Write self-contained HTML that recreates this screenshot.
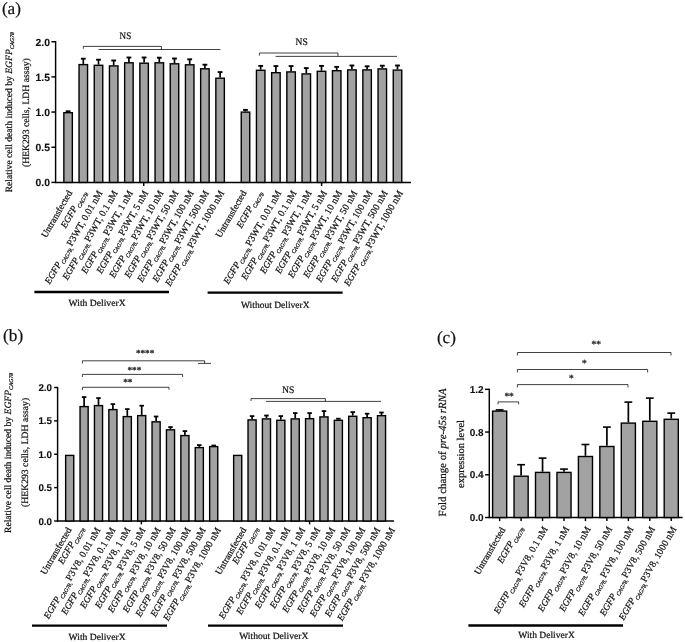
<!DOCTYPE html>
<html><head><meta charset="utf-8"><title>Figure</title>
<style>
html,body{margin:0;padding:0;background:#fff;}
svg text{stroke:#111;stroke-width:0.22px;}svg text.st{stroke:#333;stroke-width:0.4px;}svg text.tk{stroke-width:0.1px;}svg{display:block;text-rendering:geometricPrecision;will-change:transform;filter:grayscale(1);font-family:"Liberation Serif",serif;fill:#111;}
</style></head><body>
<svg width="685" height="642" viewBox="0 0 685 642">
<rect width="685" height="642" fill="#fff"/>
<text x="1.9" y="14.0" font-size="17.2">(a)</text>
<path d="M55.6,41.10 V183.00" stroke="#000" stroke-width="1.45"/>
<path d="M55.0,182.4 H411" stroke="#000" stroke-width="1.45"/>
<path d="M143.7,182.4 V186.0" stroke="#000" stroke-width="1.45"/>
<path d="M321.6,182.4 V186.0" stroke="#000" stroke-width="1.45"/>
<line x1="51.40" x2="55.60" y1="182.40" y2="182.40" stroke="#000" stroke-width="1.45"/>
<text x="50.00" y="186.20" text-anchor="end" class="tk" font-family="'Liberation Sans',sans-serif" font-weight="bold" font-size="10.4">0.0</text>
<line x1="51.40" x2="55.60" y1="147.23" y2="147.23" stroke="#000" stroke-width="1.45"/>
<text x="50.00" y="151.03" text-anchor="end" class="tk" font-family="'Liberation Sans',sans-serif" font-weight="bold" font-size="10.4">0.5</text>
<line x1="51.40" x2="55.60" y1="112.05" y2="112.05" stroke="#000" stroke-width="1.45"/>
<text x="50.00" y="115.85" text-anchor="end" class="tk" font-family="'Liberation Sans',sans-serif" font-weight="bold" font-size="10.4">1.0</text>
<line x1="51.40" x2="55.60" y1="76.88" y2="76.88" stroke="#000" stroke-width="1.45"/>
<text x="50.00" y="80.68" text-anchor="end" class="tk" font-family="'Liberation Sans',sans-serif" font-weight="bold" font-size="10.4">1.5</text>
<line x1="51.40" x2="55.60" y1="41.70" y2="41.70" stroke="#000" stroke-width="1.45"/>
<text x="50.00" y="45.50" text-anchor="end" class="tk" font-family="'Liberation Sans',sans-serif" font-weight="bold" font-size="10.4">2.0</text>
<path d="M68.10,112.00 V111.20" stroke="#000" stroke-width="1.7" fill="none"/><path d="M65.70,111.30 H70.50" stroke="#000" stroke-width="1.9" fill="none"/><rect x="63.85" y="112.70" width="8.50" height="69.70" fill="#a2a2a2" stroke="#000" stroke-width="1.4"/>
<text transform="translate(72.50,192.80) rotate(-60)" text-anchor="end" font-size="9.4">Untransfected</text>
<path d="M83.30,63.90 V58.60" stroke="#000" stroke-width="1.7" fill="none"/><path d="M80.90,58.70 H85.70" stroke="#000" stroke-width="1.9" fill="none"/><rect x="79.05" y="64.60" width="8.50" height="117.80" fill="#a2a2a2" stroke="#000" stroke-width="1.4"/>
<text transform="translate(86.50,192.80) rotate(-60)" text-anchor="end" font-size="9.4"><tspan font-style="italic">EGFP</tspan><tspan font-style="italic" font-size="5.64" dx="0.7" dy="2.4">CAG78</tspan></text>
<path d="M98.50,64.60 V59.60" stroke="#000" stroke-width="1.7" fill="none"/><path d="M96.10,59.70 H100.90" stroke="#000" stroke-width="1.9" fill="none"/><rect x="94.25" y="65.30" width="8.50" height="117.10" fill="#a2a2a2" stroke="#000" stroke-width="1.4"/>
<text transform="translate(102.90,192.80) rotate(-60)" text-anchor="end" font-size="9.4"><tspan font-style="italic">EGFP</tspan><tspan font-style="italic" font-size="5.64" dx="0.7" dy="2.4">CAG78,</tspan><tspan dy="-2.4" dx="1.0" font-size="9.70">P3WT, 0.01 nM</tspan></text>
<path d="M113.70,65.20 V60.40" stroke="#000" stroke-width="1.7" fill="none"/><path d="M111.30,60.50 H116.10" stroke="#000" stroke-width="1.9" fill="none"/><rect x="109.45" y="65.90" width="8.50" height="116.50" fill="#a2a2a2" stroke="#000" stroke-width="1.4"/>
<text transform="translate(118.10,192.80) rotate(-60)" text-anchor="end" font-size="9.4"><tspan font-style="italic">EGFP</tspan><tspan font-style="italic" font-size="5.64" dx="0.7" dy="2.4">CAG78,</tspan><tspan dy="-2.4" dx="1.0" font-size="9.70">P3WT, 0.1 nM</tspan></text>
<path d="M128.90,62.10 V57.40" stroke="#000" stroke-width="1.7" fill="none"/><path d="M126.50,57.50 H131.30" stroke="#000" stroke-width="1.9" fill="none"/><rect x="124.65" y="62.80" width="8.50" height="119.60" fill="#a2a2a2" stroke="#000" stroke-width="1.4"/>
<text transform="translate(133.30,192.80) rotate(-60)" text-anchor="end" font-size="9.4"><tspan font-style="italic">EGFP</tspan><tspan font-style="italic" font-size="5.64" dx="0.7" dy="2.4">CAG78,</tspan><tspan dy="-2.4" dx="1.0" font-size="9.70">P3WT, 1 nM</tspan></text>
<path d="M144.10,62.50 V57.40" stroke="#000" stroke-width="1.7" fill="none"/><path d="M141.70,57.50 H146.50" stroke="#000" stroke-width="1.9" fill="none"/><rect x="139.85" y="63.20" width="8.50" height="119.20" fill="#a2a2a2" stroke="#000" stroke-width="1.4"/>
<text transform="translate(148.50,192.80) rotate(-60)" text-anchor="end" font-size="9.4"><tspan font-style="italic">EGFP</tspan><tspan font-style="italic" font-size="5.64" dx="0.7" dy="2.4">CAG78,</tspan><tspan dy="-2.4" dx="1.0" font-size="9.70">P3WT, 5 nM</tspan></text>
<path d="M159.30,62.10 V57.60" stroke="#000" stroke-width="1.7" fill="none"/><path d="M156.90,57.70 H161.70" stroke="#000" stroke-width="1.9" fill="none"/><rect x="155.05" y="62.80" width="8.50" height="119.60" fill="#a2a2a2" stroke="#000" stroke-width="1.4"/>
<text transform="translate(163.70,192.80) rotate(-60)" text-anchor="end" font-size="9.4"><tspan font-style="italic">EGFP</tspan><tspan font-style="italic" font-size="5.64" dx="0.7" dy="2.4">CAG78,</tspan><tspan dy="-2.4" dx="1.0" font-size="9.70">P3WT, 10 nM</tspan></text>
<path d="M174.50,63.10 V58.40" stroke="#000" stroke-width="1.7" fill="none"/><path d="M172.10,58.50 H176.90" stroke="#000" stroke-width="1.9" fill="none"/><rect x="170.25" y="63.80" width="8.50" height="118.60" fill="#a2a2a2" stroke="#000" stroke-width="1.4"/>
<text transform="translate(178.90,192.80) rotate(-60)" text-anchor="end" font-size="9.4"><tspan font-style="italic">EGFP</tspan><tspan font-style="italic" font-size="5.64" dx="0.7" dy="2.4">CAG78,</tspan><tspan dy="-2.4" dx="1.0" font-size="9.70">P3WT, 50 nM</tspan></text>
<path d="M189.70,64.10 V59.20" stroke="#000" stroke-width="1.7" fill="none"/><path d="M187.30,59.30 H192.10" stroke="#000" stroke-width="1.9" fill="none"/><rect x="185.45" y="64.80" width="8.50" height="117.60" fill="#a2a2a2" stroke="#000" stroke-width="1.4"/>
<text transform="translate(194.10,192.80) rotate(-60)" text-anchor="end" font-size="9.4"><tspan font-style="italic">EGFP</tspan><tspan font-style="italic" font-size="5.64" dx="0.7" dy="2.4">CAG78,</tspan><tspan dy="-2.4" dx="1.0" font-size="9.70">P3WT, 100 nM</tspan></text>
<path d="M204.90,68.10 V64.60" stroke="#000" stroke-width="1.7" fill="none"/><path d="M202.50,64.70 H207.30" stroke="#000" stroke-width="1.9" fill="none"/><rect x="200.65" y="68.80" width="8.50" height="113.60" fill="#a2a2a2" stroke="#000" stroke-width="1.4"/>
<text transform="translate(209.30,192.80) rotate(-60)" text-anchor="end" font-size="9.4"><tspan font-style="italic">EGFP</tspan><tspan font-style="italic" font-size="5.64" dx="0.7" dy="2.4">CAG78,</tspan><tspan dy="-2.4" dx="1.0" font-size="9.70">P3WT, 500 nM</tspan></text>
<path d="M220.10,77.50 V72.00" stroke="#000" stroke-width="1.7" fill="none"/><path d="M217.70,72.10 H222.50" stroke="#000" stroke-width="1.9" fill="none"/><rect x="215.85" y="78.20" width="8.50" height="104.20" fill="#a2a2a2" stroke="#000" stroke-width="1.4"/>
<text transform="translate(224.50,192.80) rotate(-60)" text-anchor="end" font-size="9.4"><tspan font-style="italic">EGFP</tspan><tspan font-style="italic" font-size="5.64" dx="0.7" dy="2.4">CAG78,</tspan><tspan dy="-2.4" dx="1.0" font-size="9.70">P3WT, 1000 nM</tspan></text>
<path d="M245.50,111.40 V109.80" stroke="#000" stroke-width="1.7" fill="none"/><path d="M243.10,109.90 H247.90" stroke="#000" stroke-width="1.9" fill="none"/><rect x="241.25" y="112.10" width="8.50" height="70.30" fill="#a2a2a2" stroke="#000" stroke-width="1.4"/>
<text transform="translate(246.80,192.80) rotate(-60)" text-anchor="end" font-size="9.4">Untransfected</text>
<path d="M260.70,69.60 V65.80" stroke="#000" stroke-width="1.7" fill="none"/><path d="M258.30,65.90 H263.10" stroke="#000" stroke-width="1.9" fill="none"/><rect x="256.45" y="70.30" width="8.50" height="112.10" fill="#a2a2a2" stroke="#000" stroke-width="1.4"/>
<text transform="translate(262.20,192.80) rotate(-60)" text-anchor="end" font-size="9.4"><tspan font-style="italic">EGFP</tspan><tspan font-style="italic" font-size="5.64" dx="0.7" dy="2.4">CAG78</tspan></text>
<path d="M275.90,72.00 V66.00" stroke="#000" stroke-width="1.7" fill="none"/><path d="M273.50,66.10 H278.30" stroke="#000" stroke-width="1.9" fill="none"/><rect x="271.65" y="72.70" width="8.50" height="109.70" fill="#a2a2a2" stroke="#000" stroke-width="1.4"/>
<text transform="translate(281.60,192.80) rotate(-60)" text-anchor="end" font-size="9.4"><tspan font-style="italic">EGFP</tspan><tspan font-style="italic" font-size="5.64" dx="0.7" dy="2.4">CAG78,</tspan><tspan dy="-2.4" dx="1.0" font-size="9.70">P3WT, 0.01 nM</tspan></text>
<path d="M291.10,71.20 V66.00" stroke="#000" stroke-width="1.7" fill="none"/><path d="M288.70,66.10 H293.50" stroke="#000" stroke-width="1.9" fill="none"/><rect x="286.85" y="71.90" width="8.50" height="110.50" fill="#a2a2a2" stroke="#000" stroke-width="1.4"/>
<text transform="translate(296.80,192.80) rotate(-60)" text-anchor="end" font-size="9.4"><tspan font-style="italic">EGFP</tspan><tspan font-style="italic" font-size="5.64" dx="0.7" dy="2.4">CAG78,</tspan><tspan dy="-2.4" dx="1.0" font-size="9.70">P3WT, 0.1 nM</tspan></text>
<path d="M306.30,73.20 V68.00" stroke="#000" stroke-width="1.7" fill="none"/><path d="M303.90,68.10 H308.70" stroke="#000" stroke-width="1.9" fill="none"/><rect x="302.05" y="73.90" width="8.50" height="108.50" fill="#a2a2a2" stroke="#000" stroke-width="1.4"/>
<text transform="translate(312.00,192.80) rotate(-60)" text-anchor="end" font-size="9.4"><tspan font-style="italic">EGFP</tspan><tspan font-style="italic" font-size="5.64" dx="0.7" dy="2.4">CAG78,</tspan><tspan dy="-2.4" dx="1.0" font-size="9.70">P3WT, 1 nM</tspan></text>
<path d="M321.50,70.60 V65.80" stroke="#000" stroke-width="1.7" fill="none"/><path d="M319.10,65.90 H323.90" stroke="#000" stroke-width="1.9" fill="none"/><rect x="317.25" y="71.30" width="8.50" height="111.10" fill="#a2a2a2" stroke="#000" stroke-width="1.4"/>
<text transform="translate(327.20,192.80) rotate(-60)" text-anchor="end" font-size="9.4"><tspan font-style="italic">EGFP</tspan><tspan font-style="italic" font-size="5.64" dx="0.7" dy="2.4">CAG78,</tspan><tspan dy="-2.4" dx="1.0" font-size="9.70">P3WT, 5 nM</tspan></text>
<path d="M336.70,70.00 V66.80" stroke="#000" stroke-width="1.7" fill="none"/><path d="M334.30,66.90 H339.10" stroke="#000" stroke-width="1.9" fill="none"/><rect x="332.45" y="70.70" width="8.50" height="111.70" fill="#a2a2a2" stroke="#000" stroke-width="1.4"/>
<text transform="translate(342.40,192.80) rotate(-60)" text-anchor="end" font-size="9.4"><tspan font-style="italic">EGFP</tspan><tspan font-style="italic" font-size="5.64" dx="0.7" dy="2.4">CAG78,</tspan><tspan dy="-2.4" dx="1.0" font-size="9.70">P3WT, 10 nM</tspan></text>
<path d="M351.90,69.20 V65.40" stroke="#000" stroke-width="1.7" fill="none"/><path d="M349.50,65.50 H354.30" stroke="#000" stroke-width="1.9" fill="none"/><rect x="347.65" y="69.90" width="8.50" height="112.50" fill="#a2a2a2" stroke="#000" stroke-width="1.4"/>
<text transform="translate(357.60,192.80) rotate(-60)" text-anchor="end" font-size="9.4"><tspan font-style="italic">EGFP</tspan><tspan font-style="italic" font-size="5.64" dx="0.7" dy="2.4">CAG78,</tspan><tspan dy="-2.4" dx="1.0" font-size="9.70">P3WT, 50 nM</tspan></text>
<path d="M367.10,69.20 V66.20" stroke="#000" stroke-width="1.7" fill="none"/><path d="M364.70,66.30 H369.50" stroke="#000" stroke-width="1.9" fill="none"/><rect x="362.85" y="69.90" width="8.50" height="112.50" fill="#a2a2a2" stroke="#000" stroke-width="1.4"/>
<text transform="translate(372.80,192.80) rotate(-60)" text-anchor="end" font-size="9.4"><tspan font-style="italic">EGFP</tspan><tspan font-style="italic" font-size="5.64" dx="0.7" dy="2.4">CAG78,</tspan><tspan dy="-2.4" dx="1.0" font-size="9.70">P3WT, 100 nM</tspan></text>
<path d="M382.30,68.20 V65.60" stroke="#000" stroke-width="1.7" fill="none"/><path d="M379.90,65.70 H384.70" stroke="#000" stroke-width="1.9" fill="none"/><rect x="378.05" y="68.90" width="8.50" height="113.50" fill="#a2a2a2" stroke="#000" stroke-width="1.4"/>
<text transform="translate(388.00,192.80) rotate(-60)" text-anchor="end" font-size="9.4"><tspan font-style="italic">EGFP</tspan><tspan font-style="italic" font-size="5.64" dx="0.7" dy="2.4">CAG78,</tspan><tspan dy="-2.4" dx="1.0" font-size="9.70">P3WT, 500 nM</tspan></text>
<path d="M397.50,69.40 V65.40" stroke="#000" stroke-width="1.7" fill="none"/><path d="M395.10,65.50 H399.90" stroke="#000" stroke-width="1.9" fill="none"/><rect x="393.25" y="70.10" width="8.50" height="112.30" fill="#a2a2a2" stroke="#000" stroke-width="1.4"/>
<text transform="translate(403.20,192.80) rotate(-60)" text-anchor="end" font-size="9.4"><tspan font-style="italic">EGFP</tspan><tspan font-style="italic" font-size="5.64" dx="0.7" dy="2.4">CAG78,</tspan><tspan dy="-2.4" dx="1.0" font-size="9.70">P3WT, 1000 nM</tspan></text>
<path d="M83.3,48.8 V46.4 H161.4 V49.5 M98.6,49.5 H220.4" stroke="#111" stroke-width="0.8" fill="none"/>
<path d="M259.4,55.6 V53 H338 V56.4 M275.6,56.4 H397" stroke="#111" stroke-width="0.8" fill="none"/>
<text x="119.6" y="39" font-size="10" textLength="11.6" lengthAdjust="spacingAndGlyphs">NS</text>
<text x="295.6" y="45" font-size="10" textLength="12.2" lengthAdjust="spacingAndGlyphs">NS</text>
<path d="M34.4,292 H169 M207.6,292.6 H342.6" stroke="#000" stroke-width="2.4"/>
<text x="68.6" y="306" font-size="9.5" textLength="57" lengthAdjust="spacingAndGlyphs">With DeliverX</text>
<text x="241" y="307.5" font-size="9.5" textLength="68.6" lengthAdjust="spacingAndGlyphs">Without DeliverX</text>
<text transform="translate(11.7,192.3) rotate(-90)" font-size="9.6">Relative cell death induced by <tspan font-style="italic">EGFP</tspan><tspan font-style="italic" font-size="5.7" dy="2.2">CAG78</tspan></text>
<text transform="translate(28.5,167.0) rotate(-90)" font-size="9.6" textLength="108.8" lengthAdjust="spacingAndGlyphs">(HEK293 cells, LDH assay)</text>
<text x="3.1" y="340.6" font-size="17.2">(b)</text>
<path d="M57.6,386.90 V521.60" stroke="#000" stroke-width="1.45"/>
<path d="M57.0,521.0 H394" stroke="#000" stroke-width="1.45"/>
<path d="M141.4,521.0 V524.4" stroke="#000" stroke-width="1.45"/>
<path d="M309.6,521.0 V524.4" stroke="#000" stroke-width="1.45"/>
<line x1="54.20" x2="57.60" y1="521.00" y2="521.00" stroke="#000" stroke-width="1.45"/>
<text x="52.00" y="524.50" text-anchor="end" class="tk" font-family="'Liberation Sans',sans-serif" font-weight="bold" font-size="9.8">0.0</text>
<line x1="54.20" x2="57.60" y1="487.62" y2="487.62" stroke="#000" stroke-width="1.45"/>
<text x="52.00" y="491.12" text-anchor="end" class="tk" font-family="'Liberation Sans',sans-serif" font-weight="bold" font-size="9.8">0.5</text>
<line x1="54.20" x2="57.60" y1="454.25" y2="454.25" stroke="#000" stroke-width="1.45"/>
<text x="52.00" y="457.75" text-anchor="end" class="tk" font-family="'Liberation Sans',sans-serif" font-weight="bold" font-size="9.8">1.0</text>
<line x1="54.20" x2="57.60" y1="420.88" y2="420.88" stroke="#000" stroke-width="1.45"/>
<text x="52.00" y="424.38" text-anchor="end" class="tk" font-family="'Liberation Sans',sans-serif" font-weight="bold" font-size="9.8">1.5</text>
<line x1="54.20" x2="57.60" y1="387.50" y2="387.50" stroke="#000" stroke-width="1.45"/>
<text x="52.00" y="391.00" text-anchor="end" class="tk" font-family="'Liberation Sans',sans-serif" font-weight="bold" font-size="9.8">2.0</text>
<rect x="65.65" y="455.40" width="8.10" height="65.60" fill="#a2a2a2" stroke="#000" stroke-width="1.4"/>
<text transform="translate(71.90,529.70) rotate(-60)" text-anchor="end" font-size="9.4">Untransfected</text>
<path d="M84.10,405.90 V397.00" stroke="#000" stroke-width="1.7" fill="none"/><path d="M81.85,397.10 H86.35" stroke="#000" stroke-width="1.8" fill="none"/><rect x="80.05" y="406.60" width="8.10" height="114.40" fill="#a2a2a2" stroke="#000" stroke-width="1.4"/>
<text transform="translate(83.80,528.70) rotate(-60)" text-anchor="end" font-size="9.4"><tspan font-style="italic">EGFP</tspan><tspan font-style="italic" font-size="5.64" dx="0.7" dy="2.4">CAG78</tspan></text>
<path d="M98.50,404.90 V398.00" stroke="#000" stroke-width="1.7" fill="none"/><path d="M96.25,398.10 H100.75" stroke="#000" stroke-width="1.8" fill="none"/><rect x="94.45" y="405.60" width="8.10" height="115.40" fill="#a2a2a2" stroke="#000" stroke-width="1.4"/>
<text transform="translate(100.70,529.70) rotate(-60)" text-anchor="end" font-size="9.4"><tspan font-style="italic">EGFP</tspan><tspan font-style="italic" font-size="5.64" dx="0.7" dy="2.4">CAG78,</tspan><tspan dy="-2.4" dx="1.0" font-size="9.70">P3V8, 0.01 nM</tspan></text>
<path d="M112.90,408.90 V404.00" stroke="#000" stroke-width="1.7" fill="none"/><path d="M110.65,404.10 H115.15" stroke="#000" stroke-width="1.8" fill="none"/><rect x="108.85" y="409.60" width="8.10" height="111.40" fill="#a2a2a2" stroke="#000" stroke-width="1.4"/>
<text transform="translate(115.76,529.70) rotate(-60)" text-anchor="end" font-size="9.4"><tspan font-style="italic">EGFP</tspan><tspan font-style="italic" font-size="5.64" dx="0.7" dy="2.4">CAG78,</tspan><tspan dy="-2.4" dx="1.0" font-size="9.70">P3V8, 0.1 nM</tspan></text>
<path d="M127.30,415.90 V409.00" stroke="#000" stroke-width="1.7" fill="none"/><path d="M125.05,409.10 H129.55" stroke="#000" stroke-width="1.8" fill="none"/><rect x="123.25" y="416.60" width="8.10" height="104.40" fill="#a2a2a2" stroke="#000" stroke-width="1.4"/>
<text transform="translate(130.82,529.70) rotate(-60)" text-anchor="end" font-size="9.4"><tspan font-style="italic">EGFP</tspan><tspan font-style="italic" font-size="5.64" dx="0.7" dy="2.4">CAG78,</tspan><tspan dy="-2.4" dx="1.0" font-size="9.70">P3V8, 1 nM</tspan></text>
<path d="M141.70,414.90 V405.60" stroke="#000" stroke-width="1.7" fill="none"/><path d="M139.45,405.70 H143.95" stroke="#000" stroke-width="1.8" fill="none"/><rect x="137.65" y="415.60" width="8.10" height="105.40" fill="#a2a2a2" stroke="#000" stroke-width="1.4"/>
<text transform="translate(145.88,529.70) rotate(-60)" text-anchor="end" font-size="9.4"><tspan font-style="italic">EGFP</tspan><tspan font-style="italic" font-size="5.64" dx="0.7" dy="2.4">CAG78,</tspan><tspan dy="-2.4" dx="1.0" font-size="9.70">P3V8, 5 nM</tspan></text>
<path d="M156.10,421.10 V416.40" stroke="#000" stroke-width="1.7" fill="none"/><path d="M153.85,416.50 H158.35" stroke="#000" stroke-width="1.8" fill="none"/><rect x="152.05" y="421.80" width="8.10" height="99.20" fill="#a2a2a2" stroke="#000" stroke-width="1.4"/>
<text transform="translate(160.94,529.70) rotate(-60)" text-anchor="end" font-size="9.4"><tspan font-style="italic">EGFP</tspan><tspan font-style="italic" font-size="5.64" dx="0.7" dy="2.4">CAG78,</tspan><tspan dy="-2.4" dx="1.0" font-size="9.70">P3V8, 10 nM</tspan></text>
<path d="M170.50,429.10 V427.00" stroke="#000" stroke-width="1.7" fill="none"/><path d="M168.25,427.10 H172.75" stroke="#000" stroke-width="1.8" fill="none"/><rect x="166.45" y="429.80" width="8.10" height="91.20" fill="#a2a2a2" stroke="#000" stroke-width="1.4"/>
<text transform="translate(176.00,529.70) rotate(-60)" text-anchor="end" font-size="9.4"><tspan font-style="italic">EGFP</tspan><tspan font-style="italic" font-size="5.64" dx="0.7" dy="2.4">CAG78,</tspan><tspan dy="-2.4" dx="1.0" font-size="9.70">P3V8, 50 nM</tspan></text>
<path d="M184.90,434.90 V431.00" stroke="#000" stroke-width="1.7" fill="none"/><path d="M182.65,431.10 H187.15" stroke="#000" stroke-width="1.8" fill="none"/><rect x="180.85" y="435.60" width="8.10" height="85.40" fill="#a2a2a2" stroke="#000" stroke-width="1.4"/>
<text transform="translate(191.06,529.70) rotate(-60)" text-anchor="end" font-size="9.4"><tspan font-style="italic">EGFP</tspan><tspan font-style="italic" font-size="5.64" dx="0.7" dy="2.4">CAG78,</tspan><tspan dy="-2.4" dx="1.0" font-size="9.70">P3V8, 100 nM</tspan></text>
<path d="M199.30,446.90 V445.00" stroke="#000" stroke-width="1.7" fill="none"/><path d="M197.05,445.10 H201.55" stroke="#000" stroke-width="1.8" fill="none"/><rect x="195.25" y="447.60" width="8.10" height="73.40" fill="#a2a2a2" stroke="#000" stroke-width="1.4"/>
<text transform="translate(206.12,529.70) rotate(-60)" text-anchor="end" font-size="9.4"><tspan font-style="italic">EGFP</tspan><tspan font-style="italic" font-size="5.64" dx="0.7" dy="2.4">CAG78,</tspan><tspan dy="-2.4" dx="1.0" font-size="9.70">P3V8, 500 nM</tspan></text>
<path d="M213.70,445.90 V445.40" stroke="#000" stroke-width="1.7" fill="none"/><path d="M211.45,445.50 H215.95" stroke="#000" stroke-width="1.8" fill="none"/><rect x="209.65" y="446.60" width="8.10" height="74.40" fill="#a2a2a2" stroke="#000" stroke-width="1.4"/>
<text transform="translate(221.18,529.70) rotate(-60)" text-anchor="end" font-size="9.4"><tspan font-style="italic">EGFP</tspan><tspan font-style="italic" font-size="5.64" dx="0.7" dy="2.4">CAG78,</tspan><tspan dy="-2.4" dx="1.0" font-size="9.70">P3V8, 1000 nM</tspan></text>
<rect x="233.65" y="455.40" width="8.10" height="65.60" fill="#a2a2a2" stroke="#000" stroke-width="1.4"/>
<text transform="translate(246.65,529.70) rotate(-60)" text-anchor="end" font-size="9.4">Untransfected</text>
<path d="M252.08,419.20 V416.00" stroke="#000" stroke-width="1.7" fill="none"/><path d="M249.83,416.10 H254.33" stroke="#000" stroke-width="1.8" fill="none"/><rect x="248.03" y="419.90" width="8.10" height="101.10" fill="#a2a2a2" stroke="#000" stroke-width="1.4"/>
<text transform="translate(258.00,528.70) rotate(-60)" text-anchor="end" font-size="9.4"><tspan font-style="italic">EGFP</tspan><tspan font-style="italic" font-size="5.64" dx="0.7" dy="2.4">CAG78</tspan></text>
<path d="M266.46,418.20 V415.40" stroke="#000" stroke-width="1.7" fill="none"/><path d="M264.21,415.50 H268.71" stroke="#000" stroke-width="1.8" fill="none"/><rect x="262.41" y="418.90" width="8.10" height="102.10" fill="#a2a2a2" stroke="#000" stroke-width="1.4"/>
<text transform="translate(275.66,529.70) rotate(-60)" text-anchor="end" font-size="9.4"><tspan font-style="italic">EGFP</tspan><tspan font-style="italic" font-size="5.64" dx="0.7" dy="2.4">CAG78,</tspan><tspan dy="-2.4" dx="1.0" font-size="9.70">P3V8, 0.01 nM</tspan></text>
<path d="M280.84,419.60 V416.00" stroke="#000" stroke-width="1.7" fill="none"/><path d="M278.59,416.10 H283.09" stroke="#000" stroke-width="1.8" fill="none"/><rect x="276.79" y="420.30" width="8.10" height="100.70" fill="#a2a2a2" stroke="#000" stroke-width="1.4"/>
<text transform="translate(290.63,529.70) rotate(-60)" text-anchor="end" font-size="9.4"><tspan font-style="italic">EGFP</tspan><tspan font-style="italic" font-size="5.64" dx="0.7" dy="2.4">CAG78,</tspan><tspan dy="-2.4" dx="1.0" font-size="9.70">P3V8, 0.1 nM</tspan></text>
<path d="M295.22,418.20 V413.00" stroke="#000" stroke-width="1.7" fill="none"/><path d="M292.97,413.10 H297.47" stroke="#000" stroke-width="1.8" fill="none"/><rect x="291.17" y="418.90" width="8.10" height="102.10" fill="#a2a2a2" stroke="#000" stroke-width="1.4"/>
<text transform="translate(305.60,529.70) rotate(-60)" text-anchor="end" font-size="9.4"><tspan font-style="italic">EGFP</tspan><tspan font-style="italic" font-size="5.64" dx="0.7" dy="2.4">CAG78,</tspan><tspan dy="-2.4" dx="1.0" font-size="9.70">P3V8, 1 nM</tspan></text>
<path d="M309.60,418.00 V413.00" stroke="#000" stroke-width="1.7" fill="none"/><path d="M307.35,413.10 H311.85" stroke="#000" stroke-width="1.8" fill="none"/><rect x="305.55" y="418.70" width="8.10" height="102.30" fill="#a2a2a2" stroke="#000" stroke-width="1.4"/>
<text transform="translate(320.57,529.70) rotate(-60)" text-anchor="end" font-size="9.4"><tspan font-style="italic">EGFP</tspan><tspan font-style="italic" font-size="5.64" dx="0.7" dy="2.4">CAG78,</tspan><tspan dy="-2.4" dx="1.0" font-size="9.70">P3V8, 5 nM</tspan></text>
<path d="M323.98,416.20 V411.00" stroke="#000" stroke-width="1.7" fill="none"/><path d="M321.73,411.10 H326.23" stroke="#000" stroke-width="1.8" fill="none"/><rect x="319.93" y="416.90" width="8.10" height="104.10" fill="#a2a2a2" stroke="#000" stroke-width="1.4"/>
<text transform="translate(335.54,529.70) rotate(-60)" text-anchor="end" font-size="9.4"><tspan font-style="italic">EGFP</tspan><tspan font-style="italic" font-size="5.64" dx="0.7" dy="2.4">CAG78,</tspan><tspan dy="-2.4" dx="1.0" font-size="9.70">P3V8, 10 nM</tspan></text>
<path d="M338.36,419.60 V418.60" stroke="#000" stroke-width="1.7" fill="none"/><path d="M336.11,418.70 H340.61" stroke="#000" stroke-width="1.8" fill="none"/><rect x="334.31" y="420.30" width="8.10" height="100.70" fill="#a2a2a2" stroke="#000" stroke-width="1.4"/>
<text transform="translate(350.51,529.70) rotate(-60)" text-anchor="end" font-size="9.4"><tspan font-style="italic">EGFP</tspan><tspan font-style="italic" font-size="5.64" dx="0.7" dy="2.4">CAG78,</tspan><tspan dy="-2.4" dx="1.0" font-size="9.70">P3V8, 50 nM</tspan></text>
<path d="M352.74,415.60 V412.00" stroke="#000" stroke-width="1.7" fill="none"/><path d="M350.49,412.10 H354.99" stroke="#000" stroke-width="1.8" fill="none"/><rect x="348.69" y="416.30" width="8.10" height="104.70" fill="#a2a2a2" stroke="#000" stroke-width="1.4"/>
<text transform="translate(365.48,529.70) rotate(-60)" text-anchor="end" font-size="9.4"><tspan font-style="italic">EGFP</tspan><tspan font-style="italic" font-size="5.64" dx="0.7" dy="2.4">CAG78,</tspan><tspan dy="-2.4" dx="1.0" font-size="9.70">P3V8, 100 nM</tspan></text>
<path d="M367.12,417.00 V413.60" stroke="#000" stroke-width="1.7" fill="none"/><path d="M364.87,413.70 H369.37" stroke="#000" stroke-width="1.8" fill="none"/><rect x="363.07" y="417.70" width="8.10" height="103.30" fill="#a2a2a2" stroke="#000" stroke-width="1.4"/>
<text transform="translate(380.45,529.70) rotate(-60)" text-anchor="end" font-size="9.4"><tspan font-style="italic">EGFP</tspan><tspan font-style="italic" font-size="5.64" dx="0.7" dy="2.4">CAG78,</tspan><tspan dy="-2.4" dx="1.0" font-size="9.70">P3V8, 500 nM</tspan></text>
<path d="M381.50,415.00 V412.40" stroke="#000" stroke-width="1.7" fill="none"/><path d="M379.25,412.50 H383.75" stroke="#000" stroke-width="1.8" fill="none"/><rect x="377.45" y="415.70" width="8.10" height="105.30" fill="#a2a2a2" stroke="#000" stroke-width="1.4"/>
<text transform="translate(395.42,529.70) rotate(-60)" text-anchor="end" font-size="9.4"><tspan font-style="italic">EGFP</tspan><tspan font-style="italic" font-size="5.64" dx="0.7" dy="2.4">CAG78,</tspan><tspan dy="-2.4" dx="1.0" font-size="9.70">P3V8, 1000 nM</tspan></text>
<path d="M82.4,390 V387.3 H169 V389.8 M82.4,377 V374.4 H182.6 V377 M82.4,363.5 V360.8 H204.6 V363.4 M198,363.4 H211" stroke="#111" stroke-width="0.8" fill="none"/>
<path d="M251,401 V398.6 H325.4 V401.4 M266,401.4 H381" stroke="#111" stroke-width="0.8" fill="none"/>
<text x="282" y="393" font-size="10" textLength="12.4" lengthAdjust="spacingAndGlyphs">NS</text>
<text x="123.2" y="385.2" font-size="9.2" class="st" fill="#333">**</text>
<text x="127.5" y="372.6" font-size="9.2" class="st" fill="#333">***</text>
<text x="135.9" y="355.8" font-size="9.2" class="st" fill="#333">****</text>
<path d="M32,625.6 H167 M208,625.6 H343" stroke="#000" stroke-width="2.4"/>
<text x="68.6" y="639.6" font-size="9.5" textLength="57" lengthAdjust="spacingAndGlyphs">With DeliverX</text>
<text x="239.2" y="639.0" font-size="9.5" textLength="69.2" lengthAdjust="spacingAndGlyphs">Without DeliverX</text>
<text transform="translate(10.7,533) rotate(-90)" font-size="9.6">Relative cell death induced by <tspan font-style="italic">EGFP</tspan><tspan font-style="italic" font-size="5.7" dy="2.2">CAG78</tspan></text>
<text transform="translate(27.7,506.9) rotate(-90)" font-size="9.6" textLength="109" lengthAdjust="spacingAndGlyphs">(HEK293 cells, LDH assay)</text>
<text x="436.9" y="343.0" font-size="17.2">(c)</text>
<path d="M489.3,388.74 V518.10" stroke="#000" stroke-width="1.45"/>
<path d="M488.7,517.5 H682.6" stroke="#000" stroke-width="1.45"/>
<line x1="485.10" x2="489.30" y1="517.50" y2="517.50" stroke="#000" stroke-width="1.45"/>
<text x="483.70" y="521.00" text-anchor="end" class="tk" font-family="'Liberation Sans',sans-serif" font-weight="bold" font-size="10">0.0</text>
<line x1="485.10" x2="489.30" y1="474.78" y2="474.78" stroke="#000" stroke-width="1.45"/>
<text x="483.70" y="478.28" text-anchor="end" class="tk" font-family="'Liberation Sans',sans-serif" font-weight="bold" font-size="10">0.4</text>
<line x1="485.10" x2="489.30" y1="432.06" y2="432.06" stroke="#000" stroke-width="1.45"/>
<text x="483.70" y="435.56" text-anchor="end" class="tk" font-family="'Liberation Sans',sans-serif" font-weight="bold" font-size="10">0.8</text>
<line x1="485.10" x2="489.30" y1="389.34" y2="389.34" stroke="#000" stroke-width="1.45"/>
<text x="483.70" y="392.84" text-anchor="end" class="tk" font-family="'Liberation Sans',sans-serif" font-weight="bold" font-size="10">1.2</text>
<path d="M499.65,517.5 V521.1" stroke="#000" stroke-width="1.45"/>
<path d="M521.10,517.5 V521.1" stroke="#000" stroke-width="1.45"/>
<path d="M542.55,517.5 V521.1" stroke="#000" stroke-width="1.45"/>
<path d="M564.00,517.5 V521.1" stroke="#000" stroke-width="1.45"/>
<path d="M585.45,517.5 V521.1" stroke="#000" stroke-width="1.45"/>
<path d="M606.90,517.5 V521.1" stroke="#000" stroke-width="1.45"/>
<path d="M628.35,517.5 V521.1" stroke="#000" stroke-width="1.45"/>
<path d="M649.80,517.5 V521.1" stroke="#000" stroke-width="1.45"/>
<path d="M671.25,517.5 V521.1" stroke="#000" stroke-width="1.45"/>
<path d="M499.65,410.40 V409.80" stroke="#000" stroke-width="1.7" fill="none"/><path d="M495.75,409.90 H503.55" stroke="#000" stroke-width="1.6" fill="none"/><rect x="492.60" y="411.10" width="14.10" height="106.40" fill="#a2a2a2" stroke="#000" stroke-width="1.4"/>
<text transform="translate(505.50,529.60) rotate(-60)" text-anchor="end" font-size="9.4">Untransfected</text>
<path d="M521.10,475.50 V464.60" stroke="#000" stroke-width="1.7" fill="none"/><path d="M517.20,464.70 H525.00" stroke="#000" stroke-width="1.6" fill="none"/><rect x="514.05" y="476.20" width="14.10" height="41.30" fill="#a2a2a2" stroke="#000" stroke-width="1.4"/>
<text transform="translate(523.00,528.00) rotate(-60)" text-anchor="end" font-size="9.4"><tspan font-style="italic">EGFP</tspan><tspan font-style="italic" font-size="5.64" dx="0.7" dy="2.4">CAG78</tspan></text>
<path d="M542.55,471.70 V458.00" stroke="#000" stroke-width="1.7" fill="none"/><path d="M538.65,458.10 H546.45" stroke="#000" stroke-width="1.6" fill="none"/><rect x="535.50" y="472.40" width="14.10" height="45.10" fill="#a2a2a2" stroke="#000" stroke-width="1.4"/>
<text transform="translate(548.05,528.80) rotate(-60)" text-anchor="end" font-size="9.4"><tspan font-style="italic">EGFP</tspan><tspan font-style="italic" font-size="5.64" dx="0.7" dy="2.4">CAG78,</tspan><tspan dy="-2.4" dx="1.0" font-size="9.70">P3V8, 0.1 nM</tspan></text>
<path d="M564.00,471.70 V469.00" stroke="#000" stroke-width="1.7" fill="none"/><path d="M560.10,469.10 H567.90" stroke="#000" stroke-width="1.6" fill="none"/><rect x="556.95" y="472.40" width="14.10" height="45.10" fill="#a2a2a2" stroke="#000" stroke-width="1.4"/>
<text transform="translate(569.51,528.80) rotate(-60)" text-anchor="end" font-size="9.4"><tspan font-style="italic">EGFP</tspan><tspan font-style="italic" font-size="5.64" dx="0.7" dy="2.4">CAG78,</tspan><tspan dy="-2.4" dx="1.0" font-size="9.70">P3V8, 1 nM</tspan></text>
<path d="M585.45,455.80 V444.40" stroke="#000" stroke-width="1.7" fill="none"/><path d="M581.55,444.50 H589.35" stroke="#000" stroke-width="1.6" fill="none"/><rect x="578.40" y="456.50" width="14.10" height="61.00" fill="#a2a2a2" stroke="#000" stroke-width="1.4"/>
<text transform="translate(590.97,528.80) rotate(-60)" text-anchor="end" font-size="9.4"><tspan font-style="italic">EGFP</tspan><tspan font-style="italic" font-size="5.64" dx="0.7" dy="2.4">CAG78,</tspan><tspan dy="-2.4" dx="1.0" font-size="9.70">P3V8, 10 nM</tspan></text>
<path d="M606.90,445.80 V427.00" stroke="#000" stroke-width="1.7" fill="none"/><path d="M603.00,427.10 H610.80" stroke="#000" stroke-width="1.6" fill="none"/><rect x="599.85" y="446.50" width="14.10" height="71.00" fill="#a2a2a2" stroke="#000" stroke-width="1.4"/>
<text transform="translate(612.43,528.80) rotate(-60)" text-anchor="end" font-size="9.4"><tspan font-style="italic">EGFP</tspan><tspan font-style="italic" font-size="5.64" dx="0.7" dy="2.4">CAG78,</tspan><tspan dy="-2.4" dx="1.0" font-size="9.70">P3V8, 50 nM</tspan></text>
<path d="M628.35,422.40 V402.00" stroke="#000" stroke-width="1.7" fill="none"/><path d="M624.45,402.10 H632.25" stroke="#000" stroke-width="1.6" fill="none"/><rect x="621.30" y="423.10" width="14.10" height="94.40" fill="#a2a2a2" stroke="#000" stroke-width="1.4"/>
<text transform="translate(633.89,528.80) rotate(-60)" text-anchor="end" font-size="9.4"><tspan font-style="italic">EGFP</tspan><tspan font-style="italic" font-size="5.64" dx="0.7" dy="2.4">CAG78,</tspan><tspan dy="-2.4" dx="1.0" font-size="9.70">P3V8, 100 nM</tspan></text>
<path d="M649.80,420.60 V398.00" stroke="#000" stroke-width="1.7" fill="none"/><path d="M645.90,398.10 H653.70" stroke="#000" stroke-width="1.6" fill="none"/><rect x="642.75" y="421.30" width="14.10" height="96.20" fill="#a2a2a2" stroke="#000" stroke-width="1.4"/>
<text transform="translate(655.35,528.80) rotate(-60)" text-anchor="end" font-size="9.4"><tspan font-style="italic">EGFP</tspan><tspan font-style="italic" font-size="5.64" dx="0.7" dy="2.4">CAG78,</tspan><tspan dy="-2.4" dx="1.0" font-size="9.70">P3V8, 500 nM</tspan></text>
<path d="M671.25,418.60 V413.00" stroke="#000" stroke-width="1.7" fill="none"/><path d="M667.35,413.10 H675.15" stroke="#000" stroke-width="1.6" fill="none"/><rect x="664.20" y="419.30" width="14.10" height="98.20" fill="#a2a2a2" stroke="#000" stroke-width="1.4"/>
<text transform="translate(676.81,528.80) rotate(-60)" text-anchor="end" font-size="9.4"><tspan font-style="italic">EGFP</tspan><tspan font-style="italic" font-size="5.64" dx="0.7" dy="2.4">CAG78,</tspan><tspan dy="-2.4" dx="1.0" font-size="9.70">P3V8, 1000 nM</tspan></text>
<path d="M498,404.4 V401.9 H518.6 V404.4 M517.4,355.4 V352.5 H671 V355.4 M517.4,372.4 V369.5 H647.6 V372.4 M517.4,387.4 V384.6 H628 V387.4" stroke="#111" stroke-width="0.8" fill="none"/>
<text x="504.4" y="398.5" font-size="9.4" class="st" fill="#333">**</text>
<text x="591.6" y="347" font-size="9.4" class="st" fill="#333">**</text>
<text x="582" y="365.5" font-size="9.4" class="st" fill="#333">*</text>
<text x="569" y="381" font-size="9.4" class="st" fill="#333">*</text>
<path d="M468.4,625.5 H623" stroke="#000" stroke-width="2.4"/>
<text x="518.3" y="637.9" font-size="9.5" textLength="56.5" lengthAdjust="spacingAndGlyphs">With DeliverX</text>
<text transform="translate(446,516.4) rotate(-90)" font-size="10.9" textLength="128" lengthAdjust="spacingAndGlyphs">Fold change of <tspan font-style="italic">pre-45s rRNA</tspan></text>
<text transform="translate(464,488) rotate(-90)" font-size="10.4" textLength="68" lengthAdjust="spacingAndGlyphs">expression level</text>
</svg>
</body></html>
